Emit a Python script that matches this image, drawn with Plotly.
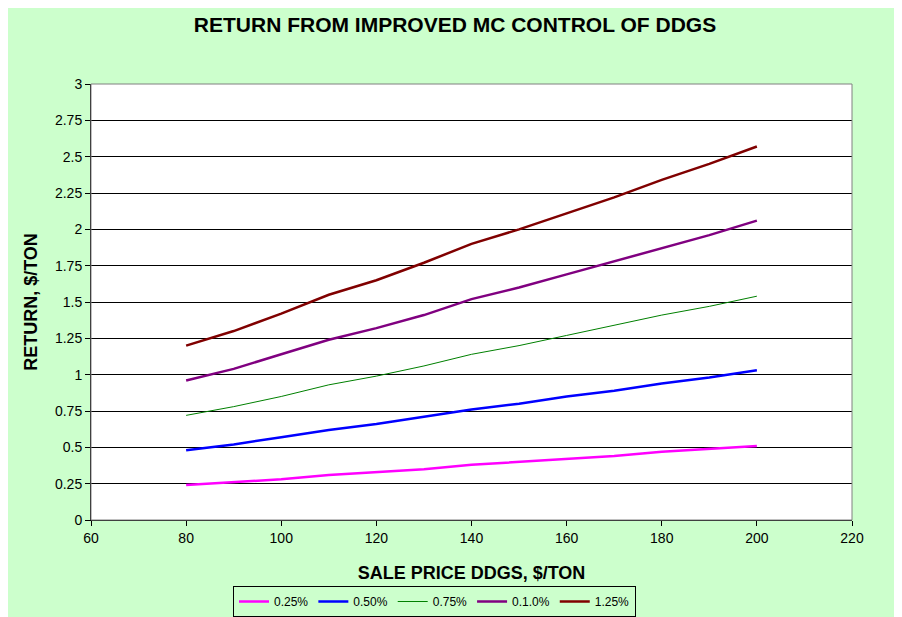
import plotly.graph_objects as go

price = [80, 90, 100, 110, 120, 130, 140, 150, 160, 170, 180, 190, 200]
s_025 = [0.24, 0.26, 0.28, 0.31, 0.33, 0.35, 0.38, 0.40, 0.42, 0.44, 0.47, 0.49, 0.51]
s_050 = [0.48, 0.52, 0.57, 0.62, 0.66, 0.71, 0.76, 0.80, 0.85, 0.89, 0.94, 0.98, 1.03]
s_075 = [0.72, 0.78, 0.85, 0.93, 0.99, 1.06, 1.14, 1.20, 1.27, 1.34, 1.41, 1.47, 1.54]
s_010 = [0.96, 1.04, 1.14, 1.24, 1.32, 1.41, 1.52, 1.60, 1.69, 1.78, 1.87, 1.96, 2.06]
s_125 = [1.20, 1.30, 1.42, 1.55, 1.65, 1.77, 1.90, 2.00, 2.11, 2.22, 2.34, 2.45, 2.57]
series_names = ["0.25%", "0.50%", "0.75%", "0.1.0%", "1.25%"]
x_ticks = [60, 80, 100, 120, 140, 160, 180, 200, 220]
y_ticks = [0, 0.25, 0.5, 0.75, 1, 1.25, 1.5, 1.75, 2, 2.25, 2.5, 2.75, 3]
y_tick_text = ["0", "0.25", "0.5", "0.75", "1", "1.25", "1.5", "1.75", "2", "2.25", "2.5", "2.75", "3"]

colors = ["#FF00FF", "#0000FF", "#008000", "#800080", "#800000"]
widths = [2.5, 2.5, 1, 2.5, 2.5]

fig = go.Figure()
for name, vals, c, w in zip(series_names, [s_025, s_050, s_075, s_010, s_125], colors, widths):
    fig.add_trace(go.Scatter(x=price, y=vals, mode="lines", name=name,
                             line=dict(color=c, width=w)))

W, H = 894, 609
L, R, T, B = 83, 50, 76, 97
pw, ph = W - L - R, H - T - B

fig.update_layout(
    width=W, height=H,
    margin=dict(l=L, r=R, t=T, b=B, pad=0, autoexpand=False),
    paper_bgcolor="#CCFFCC",
    plot_bgcolor="#FFFFFF",
    font=dict(family="Liberation Sans, Arial", size=14, color="#000000"),
    title=dict(text="<b>RETURN FROM IMPROVED MC CONTROL OF DDGS</b>",
               x=447 / W, xanchor="center", y=1 - 17 / H, yanchor="middle",
               font=dict(size=21, color="#000000")),
    xaxis=dict(range=[60, 220], tickvals=x_ticks, automargin=False,
               showgrid=False, zeroline=False, showline=True, linecolor="#000000", linewidth=1,
               ticks="outside", ticklen=5, tickcolor="#000000", tickfont=dict(size=14),
               title=dict(text="<b>SALE PRICE DDGS, $/TON</b>", font=dict(size=18), standoff=21)),
    yaxis=dict(range=[0, 3], tickvals=y_ticks, ticktext=y_tick_text, automargin=False,
               showgrid=True, gridcolor="#000000", gridwidth=1, zeroline=False,
               showline=True, linecolor="#000000", linewidth=1,
               ticks="outside", ticklen=5, tickcolor="#000000", tickfont=dict(size=14),
               title=dict(text="<b>RETURN, $/TON</b>", font=dict(size=18), standoff=12)),
    legend=dict(orientation="h", xref="container", yref="container",
                x=426.5 / W, xanchor="center", y=1 - 593.5 / H, yanchor="middle",
                bgcolor="#CCFFCC", bordercolor="#000000", borderwidth=1,
                font=dict(size=12), itemwidth=30, tracegroupgap=0),
    showlegend=True,
)

# plot area border (gray)
fig.add_shape(type="rect", xref="paper", yref="paper", x0=0, y0=0, x1=1, y1=1,
              line=dict(color="#808080", width=1), layer="above")

fig.write_html("out.html",
               post_script="document.documentElement.style.overflow='hidden';document.body.style.overflow='hidden';")
